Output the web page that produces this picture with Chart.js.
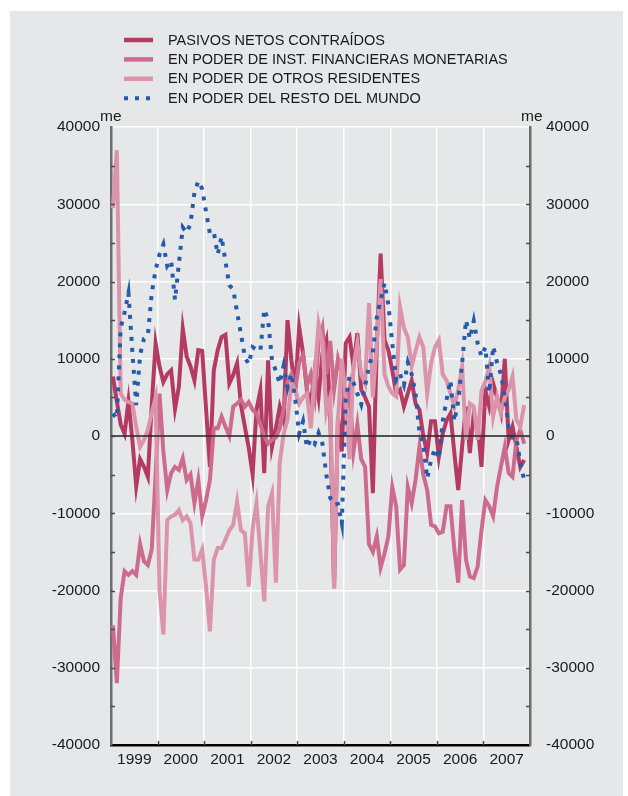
<!DOCTYPE html>
<html>
<head>
<meta charset="utf-8">
<script src="https://cdn.jsdelivr.net/npm/chart.js@4.4.1/dist/chart.umd.min.js"></script>
<style>
  html, body { margin: 0; padding: 0; background: #ffffff; }
  #wrap { position: relative; width: 628px; height: 796px; }
  #chart { position: absolute; left: 0; top: 0; }
</style>
</head>
<body>
<div id="wrap"><canvas id="chart" width="628" height="796"></canvas></div>
<script>
// monthly values, Jan 1999 .. Nov 2007 (millones de euros)
const years = ['1999', '2000', '2001', '2002', '2003', '2004', '2005', '2006', '2007'];

const pasivos = [
  7700, 4500, 1500, 300, 4500, -500, -6500, -3000, -4000, -5300,
  4000, 12000, 9000, 7000, 8000, 8500, 3500, 6400, 13900, 10300,
  9000, 7200, 11100, 11000, 3500, -4000, 8500, 11100, 12800, 13100,
  6800, 7900, 9400, 4000, 1200, -1500, -5000, 3400, 5900, -4800,
  9800, -1400, 1000, 3800, 2000, 15000, 9800, 6000, 14100, 10700,
  5900, 4000, 8500, 5000, 10700, 12400, 3000, -19700, 2500, -2000,
  12000, 12800, 9000, 13300, 6000, 5000, 3800, -7400, 11600, 23600,
  12400, 11100, 8500, 5500, 6000, 3800, 5500, 7200, 4200, 3400,
  0, -2200, 1900, 1900, -2700, 300, 2000, 2900, -2200, -7000,
  -1400, 3800, -2200, 2900, 1500, -4000, 5900, 3800, 6800, 5000,
  3000, 10000, -500, 1200, -1400, -4000, -3100
];

const instFinancieras = [
  -24500, -32000, -21000, -17500, -18000, -17500, -18000, -14000, -16200, -16700,
  -14700, -5000, 5500, -2000, -7000, -4800, -4000, -4400, -2900, -5700,
  -5000, -8700, -5700, -10400, -8300, -5700, 1000, 1000, 2500, 1200,
  0, 3800, 4200, 4700, 3800, 4400, 3400, 2900, 1500, 0,
  -1000, -500, -200, 1000, 3500, 7000, 8000, 6000, 9500, 10500,
  6500, 8000, 5000, 12000, 14000, 8000, 12300, 6000, 10000, 8000,
  3000, 6000, -2000, 1500, -3000, -4000, -14000, -15000, -13000, -17000,
  -15200, -13000, -6600, -9100, -17300, -16700, -6600, -8700, -5700, -1400,
  -5000, -7000, -11500, -11700, -12600, -12400, -9100, -9100, -14700, -19000,
  -8300, -16000, -18200, -18400, -16900, -12200, -8300, -9100, -10400, -6600,
  -4000, -1400, -4800, -5300, -500, 800, -1000
];

const otrosResidentes = [
  29500, 37000, 5500, 4700, 4400, 4200, 1200, -1400, -500, 800,
  3000, 5000, -20000, -25700, -10900, -10400, -10200, -9600, -10900, -10400,
  -11300, -16000, -16000, -14700, -19500, -25300, -16000, -14500, -14500, -13400,
  -12200, -11500, -8500, -12200, -12600, -19500, -12000, -8700, -15000, -21400,
  -9100, -7400, -19000, -3500, 300, 2100, 6800, 6000, 4200, 5000,
  5500, 1000, 8000, 14500, 12000, 3000, 5000, -19700, 2000, 10000,
  5000, -3000, 9000, 12000, 8000, 6800, 17200, 5000, 12000, 20300,
  8000, 6400, 5500, 5100, 16700, 14000, 12800, 9000, 11000, 12800,
  11500, 5500, 9400, 11500, 12400, 8000, 7200, 5500, 3800, 6000,
  9000, -500, 4200, 3800, -500, 5900, 7000, 9000, 2500, 5000,
  3000, 5000, 6000, 7700, 2100, 1200, 4000
];

const restoMundo = [
  2900, 2300, 14000, 16000, 18500, 11000, 4000, 10500, 12600, 13000,
  18500, 21500, 23500, 24800, 22000, 22700, 17600, 22300, 27000, 26300,
  27500, 31500, 33000, 32000, 29000, 26200, 26400, 23500, 25800, 22600,
  19500, 19000, 16000, 13200, 10200, 9300, 11500, 11200, 11000, 16400,
  15000, 9800, 8400, 6800, 9100, 6300, 8100, 4700, 300, 1900,
  -1500, -400, -1000, 400, -1000, -5000, -8000, -8900, -8800, -11300,
  4800, 7700, 6900, 5500, 4100, 6500, 9000, 10800, 15300, 17600,
  19800, 17000, 12000, 7200, 8000, 6600, 9500, 8000, 5500, 500,
  -1000, -5500, -3100, -1600, -2900, 1900, 4700, 7200, 1900, 4500,
  9400, 15000, 12600, 14900, 12000, 10300, 11500, 5600, 11600, 9500,
  8000, 5100, 1000, -200, -200, -3500, -5700
];

const seriesLabels = [
  'PASIVOS NETOS CONTRAÍDOS',
  'EN PODER DE INST. FINANCIERAS MONETARIAS',
  'EN PODER DE OTROS RESIDENTES',
  'EN PODER DEL RESTO DEL MUNDO'
];

const FONT = '"Liberation Sans", Arial, Helvetica, sans-serif';
const TEXT = '#1a1a1a';

// month i sits in the middle of its slot on a 0..108 month axis
const toPoints = arr => arr.map((v, i) => ({ x: i + 0.5, y: v }));

const panel = {
  id: 'panel',
  beforeDraw(chart) {
    const ctx = chart.ctx;
    ctx.save();
    ctx.fillStyle = '#e6e7e9';
    ctx.fillRect(10, 11, 613, 785);
    ctx.restore();
  }
};

// zero line and the small inner tick marks on three sides
const axisMarks = {
  id: 'axisMarks',
  afterDatasetsDraw(chart) {
    const { ctx, chartArea: a, scales } = chart;
    const y = scales.y, x = scales.x;
    ctx.save();
    ctx.strokeStyle = 'rgba(45,45,45,0.8)';
    ctx.lineWidth = 1.8;
    const y0 = y.getPixelForValue(0);
    ctx.beginPath();
    ctx.moveTo(a.left, y0);
    ctx.lineTo(a.right, y0);
    ctx.stroke();

    ctx.strokeStyle = '#4a4a4a';
    ctx.lineWidth = 1.5;
    ctx.beginPath();
    for (let v = -35000; v <= 35000; v += 5000) {
      const py = Math.round(y.getPixelForValue(v)) + 0.5;
      ctx.moveTo(a.left, py); ctx.lineTo(a.left + 4, py);
      ctx.moveTo(a.right - 4, py); ctx.lineTo(a.right, py);
    }
    for (let m = 12; m < 108; m += 12) {
      const px = Math.round(x.getPixelForValue(m)) + 0.5;
      ctx.moveTo(px, a.bottom); ctx.lineTo(px, a.bottom - 4);
    }
    ctx.stroke();
    ctx.restore();
  }
};

const legendRows = {
  id: 'legendRows',
  afterDraw(chart) {
    const ctx = chart.ctx;
    ctx.save();
    ctx.font = '14.5px ' + FONT;
    ctx.textBaseline = 'middle';
    chart.data.datasets.forEach((ds, k) => {
      const ly = 40 + k * 19.4;
      ctx.strokeStyle = ds.borderColor;
      ctx.lineWidth = ds.borderDash ? 4 : 4.5;
      ctx.setLineDash(ds.borderDash || []);
      ctx.beginPath();
      ctx.moveTo(124, ly);
      ctx.lineTo(153, ly);
      ctx.stroke();
      ctx.setLineDash([]);
      ctx.fillStyle = TEXT;
      ctx.fillText(ds.label, 168, ly + 0.5);
    });
    ctx.font = '15.5px ' + FONT;
    ctx.textBaseline = 'alphabetic';
    ctx.fillText('me', 100, 121);
    ctx.fillText('me', 521, 121);
    ctx.restore();
  }
};

const yRange = { min: -40000, max: 40000 };

new Chart(document.getElementById('chart'), {
  type: 'line',
  data: {
    datasets: [
      {
        label: seriesLabels[0],
        data: toPoints(pasivos),
        borderColor: '#b53a61',
        borderWidth: 4,
        order: 4
      },
      {
        label: seriesLabels[1],
        data: toPoints(instFinancieras),
        borderColor: '#cd6b8d',
        borderWidth: 4,
        order: 3
      },
      {
        label: seriesLabels[2],
        data: toPoints(otrosResidentes),
        borderColor: '#dc94ab',
        borderWidth: 4,
        order: 2
      },
      {
        label: seriesLabels[3],
        data: toPoints(restoMundo),
        borderColor: '#245cab',
        borderWidth: 4,
        borderDash: [4, 7],
        order: 1
      }
    ]
  },
  options: {
    responsive: false,
    animation: false,
    devicePixelRatio: 1,
    layout: { padding: { top: 127, left: 0, right: 0, bottom: 0 } },
    elements: {
      point: { radius: 0 },
      line: { tension: 0, borderJoinStyle: 'miter', borderCapStyle: 'butt' }
    },
    plugins: {
      legend: { display: false },
      tooltip: { enabled: false }
    },
    scales: {
      x: {
        type: 'linear',
        min: 0,
        max: 108,
        afterBuildTicks(scale) {
          const t = [];
          for (let m = 0; m <= 108; m += 6) t.push({ value: m });
          scale.ticks = t;
        },
        afterFit(scale) { scale.height = 51; },
        grid: {
          drawTicks: false,
          lineWidth: 1.5,
          color: c => (c.tick && c.tick.value % 12 === 0 && c.tick.value > 0 && c.tick.value < 108) ? '#ffffff' : 'rgba(0,0,0,0)'
        },
        border: { color: '#000000', width: 2.5 },
        ticks: {
          autoSkip: false,
          maxRotation: 0,
          padding: 5,
          color: TEXT,
          font: { family: FONT, size: 15.5 },
          callback: v => (v % 12 === 6 ? years[(v - 6) / 12] : '')
        }
      },
      y: {
        position: 'left',
        min: yRange.min,
        max: yRange.max,
        afterFit(scale) { scale.width = 111; },
        grid: {
          drawTicks: false,
          lineWidth: 1.5,
          color: c => (c.tick && c.tick.value === 0) ? 'rgba(0,0,0,0)' : '#ffffff'
        },
        border: { color: '#6e6e6e', width: 2.5 },
        ticks: {
          stepSize: 10000,
          padding: 11,
          color: TEXT,
          font: { family: FONT, size: 15.5 },
          callback: v => String(v)
        }
      },
      y2: {
        position: 'right',
        min: yRange.min,
        max: yRange.max,
        afterFit(scale) { scale.width = 98; },
        grid: { display: false, drawTicks: false },
        border: { color: '#6e6e6e', width: 2.5 },
        ticks: {
          stepSize: 10000,
          padding: 16,
          color: TEXT,
          font: { family: FONT, size: 15.5 },
          callback: v => String(v)
        }
      }
    }
  },
  plugins: [panel, axisMarks, legendRows]
});
</script>
</body>
</html>
